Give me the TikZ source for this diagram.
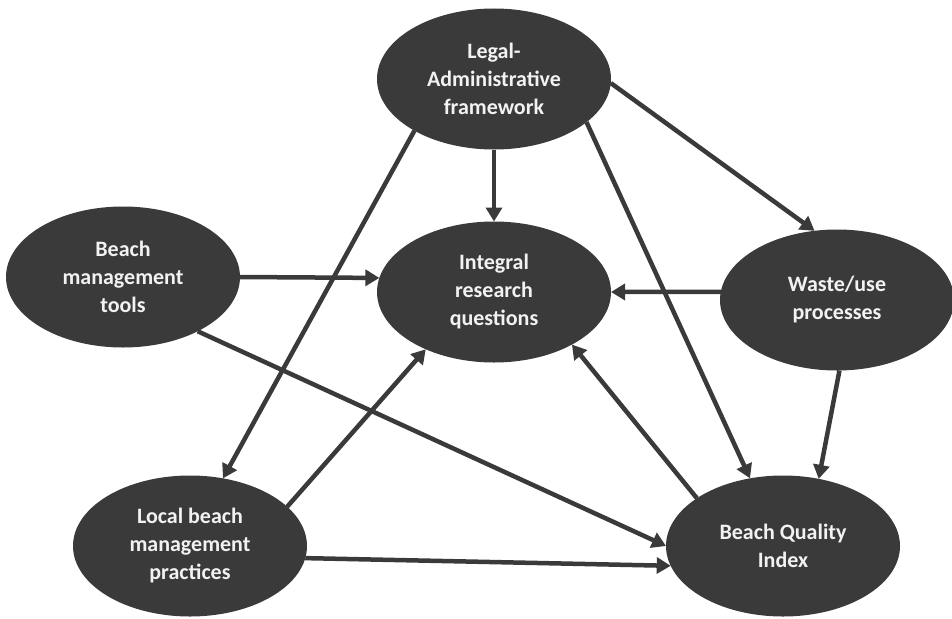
\documentclass[tikz,border=0pt]{standalone}
\usepackage{fontspec}
\setmainfont{Carlito}
\usetikzlibrary{shapes.geometric,arrows.meta}
\definecolor{ellfill}{HTML}{3A3A3A}
\definecolor{arr}{HTML}{3A3A3A}
\definecolor{txt}{HTML}{F2F2F2}
\begin{document}
\begin{tikzpicture}[x=1pt,y=-1pt,
  ell/.style={ellipse, fill=ellfill, draw=none, minimum width=234pt, minimum height=141pt,
    inner sep=0pt, outer sep=0pt, text=txt, font=\bfseries\fontsize{22}{28}\selectfont, align=center},
  conn/.style={draw=arr, line width=4.5pt, -{Triangle[length=14pt,width=16pt]}}]
\useasboundingbox[fill=white] (0,0) rectangle (952,618);
\node[ell] (legal) at (494,79) {Legal-\\Administrative\\framework};
\node[ell] (integral) at (494,292) {Integral\\research\\questions};
\node[ell] (tools) at (123,277) {Beach\\management\\tools};
\node[ell] (waste) at (837,300) {Waste/use\\processes};
\node[ell] (local) at (190,546) {Local beach\\management\\practices};
\node[ell] (bqi) at (783,546) {Beach Quality\\Index};
\draw[conn] (legal.south) -- (integral.north);
\draw[conn] (legal.213) -- (local.64);
\draw[conn] (legal.335) -- (bqi.116);
\draw[conn] (legal.358) -- (waste.108);
\draw[conn] (tools.0) -- (integral.173);
\draw[conn] (tools.324) -- (bqi.180);
\draw[conn] (waste.176) -- (integral.0);
\draw[conn] (waste.272) -- (bqi.62);
\draw[conn] (local.22) -- (integral.220);
\draw[conn] (local.354) -- (bqi.190);
\draw[conn] (bqi.151) -- (integral.326);
\end{tikzpicture}
\end{document}
